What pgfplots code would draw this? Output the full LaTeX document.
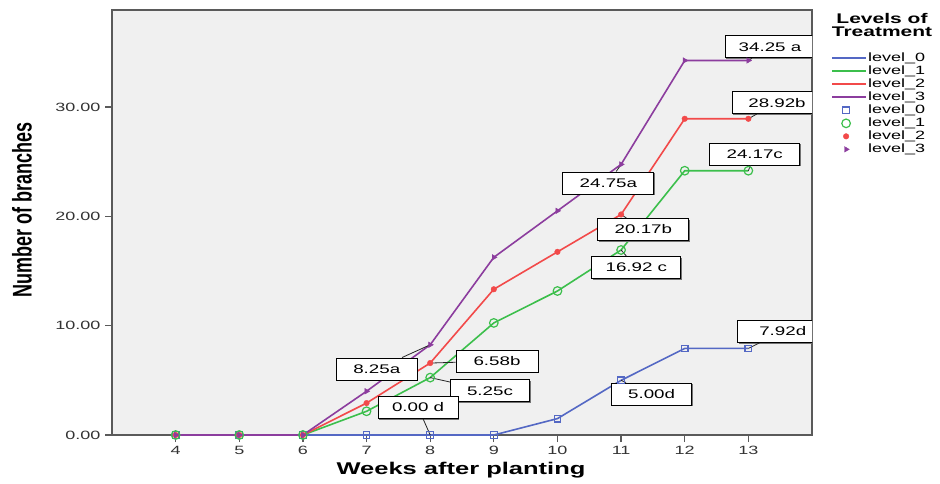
\documentclass[border=0pt]{standalone}
\usepackage{pgfplots}
\pgfplotsset{compat=1.18}
\usepackage{fontspec}
\setmainfont{Liberation Sans}
\usepackage{graphicx}
\usetikzlibrary{shadows}
\definecolor{cblue}{HTML}{5468C4}
\definecolor{cgreen}{HTML}{3CBF4C}
\definecolor{cred}{HTML}{F24A4A}
\definecolor{cpurple}{HTML}{8C3D9E}
\definecolor{bgcol}{HTML}{F0F0F0}
\definecolor{framecol}{HTML}{5A5A5A}
\definecolor{labcol}{HTML}{333333}
\newcommand{\sx}[1]{\scalebox{1.5}[1]{#1}}
\pgfplotstableread{
x  l0    l1     l2     l3
4  0     0      0      0
5  0     0      0      0
6  0     0      0      0
7  0     2.17   2.92   4.00
8  0     5.25   6.58   8.25
9  0     10.25  13.33  16.25
10 1.50  13.17  16.75  20.50
11 5.00  16.92  20.17  24.75
12 7.92  24.17  28.92  34.25
13 7.92  24.17  28.92  34.25
}\datatable
\tikzset{
 callout/.style={draw=black, line width=0.9pt, fill=white, minimum height=22pt, inner sep=1pt,
   font=\fontsize{12.5}{12.5}\selectfont,
   drop shadow={shadow xshift=1.2pt, shadow yshift=-1.2pt, fill=black!55, opacity=1}},
 leader/.style={draw=black!85, line width=0.8pt},
}
\pgfplotsset{
 lineimg/.style={legend image code/.code={\draw[##1, line width=2pt] (0pt,0pt) -- (34pt,0pt);}},
 markimg/.style={legend image code/.code={\draw[##1, only marks] plot coordinates {(14pt,0pt)};}},
}
\begin{document}
\begin{tikzpicture}
\begin{axis}[
  at={(112pt,48pt)}, anchor=south west,
  width=700pt, height=425pt, scale only axis,
  xmin=3, xmax=14, ymin=0, ymax=38.87,
  axis background/.style={fill=bgcol},
  axis line style={draw=framecol, line width=1.3pt},
  xtick={4,5,6,7,8,9,10,11,12,13},
  xticklabels={\sx{4},\sx{5},\sx{6},\sx{7},\sx{8},\sx{9},\sx{10},\sx{11},\sx{12},\sx{13}},
  ytick={0,10,20,30},
  yticklabels={\sx{0.00},\sx{10.00},\sx{20.00},\sx{30.00}},
  tick align=outside,
  tick pos=left,
  major tick length=7pt,
  tick style={draw=framecol, line width=1.3pt},
  tick label style={font=\fontsize{12}{12}\selectfont, text=labcol},
  xticklabel style={yshift=-1pt},
  yticklabel style={xshift=-1pt},
  legend style={at={(1.027,0.902)}, anchor=north west, draw=none, fill=none,
     font=\fontsize{12}{12}\selectfont, row sep=0pt, inner sep=0pt,
     nodes={text height=8.5pt, text depth=2.5pt, inner sep=1pt, xshift=2pt}},
  legend cell align=left,
  clip=true,
]
\addplot[cblue, line width=1.6pt, lineimg] table[x=x,y=l0] {\datatable};
\addplot[cgreen, line width=1.6pt, lineimg] table[x=x,y=l1] {\datatable};
\addplot[cred, line width=1.6pt, lineimg] table[x=x,y=l2] {\datatable};
\addplot[cpurple, line width=1.6pt, lineimg] table[x=x,y=l3] {\datatable};
\addplot[cblue, only marks, mark=square, mark size=3.3pt, mark options={line width=1.2pt}, markimg] table[x=x,y=l0] {\datatable};
\addplot[cgreen, only marks, mark=o, mark size=4.3pt, mark options={line width=1.2pt}, markimg] table[x=x,y=l1] {\datatable};
\addplot[cred, only marks, mark=*, mark size=2.8pt, markimg] table[x=x,y=l2] {\datatable};
\addplot[cpurple, only marks, mark=triangle*, mark size=3.2pt, mark options={rotate=-90}, markimg] table[x=x,y=l3] {\datatable};
\legend{\sx{level\_0},\sx{level\_1},\sx{level\_2},\sx{level\_3},\sx{level\_0},\sx{level\_1},\sx{level\_2},\sx{level\_3}}

\node[callout, minimum width=90pt] (c1) at (axis cs:13.34,35.5) {\sx{34.25 a}};
\node[callout, minimum width=90pt] (c2) at (axis cs:13.45,30.4) {\sx{28.92b}};
\node[callout, minimum width=90pt] (c3) at (axis cs:13.10,25.7) {\sx{24.17c}};
\node[callout, minimum width=91pt] (c4) at (axis cs:10.80,23.05) {\sx{24.75a}};
\node[callout, minimum width=91pt] (c5) at (axis cs:11.35,18.8) {\sx{20.17b}};
\node[callout, minimum width=89pt] (c6) at (axis cs:11.24,15.32) {\sx{16.92 c}};
\node[callout, minimum width=90pt] (c7) at (axis cs:13.54,9.47) {\sx{7.92d}};
\node[callout, minimum width=80pt] (c8) at (axis cs:11.48,3.75) {\sx{5.00d}};
\node[callout, minimum width=81pt] (c9) at (axis cs:7.16,6.04) {\sx{8.25a}};
\node[callout, minimum width=82pt] (c10) at (axis cs:9.05,6.77) {\sx{6.58b}};
\node[callout, minimum width=79pt] (c11) at (axis cs:8.94,4.03) {\sx{5.25c}};
\node[callout, minimum width=80pt] (c12) at (axis cs:7.81,2.52) {\sx{0.00 d}};

\draw[leader] (axis cs:13,34.25) -- (c1);
\draw[leader] (axis cs:13,28.92) -- (c2);
\draw[leader] (axis cs:13,24.17) -- (c3);
\draw[leader] (axis cs:11,24.75) -- (c4);
\draw[leader] (axis cs:11,20.17) -- (c5);
\draw[leader] (axis cs:11,16.92) -- (c6);
\draw[leader] (axis cs:13,7.92) -- (c7);
\draw[leader] (axis cs:11,5.00) -- (c8);
\draw[leader] (axis cs:8,8.25) -- (c9);
\draw[leader] (axis cs:8,6.58) -- (c10);
\draw[leader] (axis cs:8,5.25) -- (c11);
\draw[leader] (axis cs:8,0) -- (c12);
\end{axis}
\node[font=\fontsize{14}{14}\selectfont\bfseries, align=center, inner sep=0pt] at (882pt,458pt)
  {\scalebox{1.5}[1]{Levels of}\\[-1pt]\scalebox{1.5}[1]{Treatment}};
\node[anchor=base, inner sep=0pt, font=\fontsize{17}{17}\selectfont\bfseries] at (461pt,9pt)
  {\scalebox{1.5}[1]{Weeks after planting}};
\node[rotate=90, inner sep=0pt, font=\fontsize{18}{18}\selectfont\bfseries] at (22pt,273pt)
  {\scalebox{1}[1.5]{Number of branches}};
\pgfresetboundingbox
\path[use as bounding box] (0pt,0pt) rectangle (940pt,483pt);
\end{tikzpicture}
\end{document}
